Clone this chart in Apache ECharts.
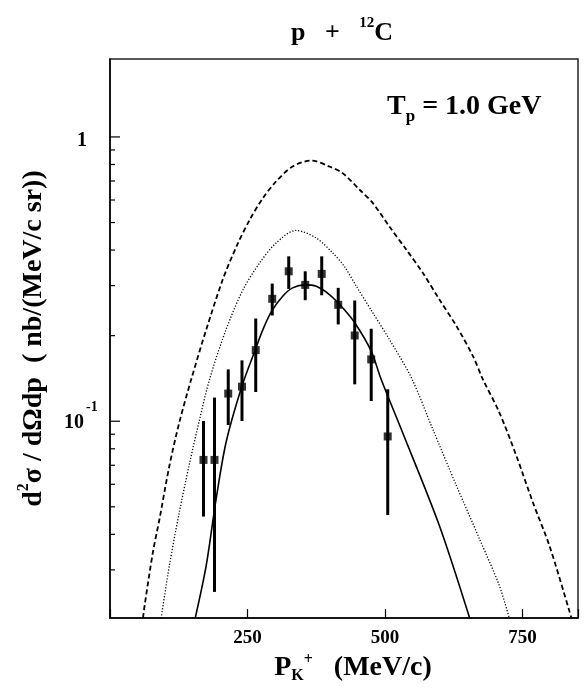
<!DOCTYPE html>
<html>
<head>
<meta charset="utf-8">
<script src="https://cdn.jsdelivr.net/npm/echarts@6/dist/echarts.min.js"></script>
<style>
  html, body { margin: 0; padding: 0; background: #fff; }
  #chart { width: 584px; height: 689px; }
</style>
</head>
<body>
<div id="chart"></div>
<script>
// data points (MeV/c, nb/(MeV/c sr))
const ptX = [170, 190, 215, 240, 265, 295, 325, 355, 385, 415, 445, 475, 505]
const ptY = [0.0731, 0.0731, 0.1251, 0.1323, 0.1779, 0.2695, 0.3368, 0.3017, 0.3298, 0.2567, 0.2003, 0.1650, 0.0884]
const errLo = [0.0462, 0.0251, 0.0970, 0.1002, 0.1267, 0.2355, 0.2921, 0.2665, 0.2774, 0.2190, 0.1348, 0.1178, 0.0468]
const errHi = [0.1002, 0.1211, 0.1522, 0.1637, 0.2298, 0.3049, 0.3802, 0.3368, 0.3802, 0.2945, 0.2659, 0.2115, 0.1295]

// solid curve
const solidX = [155, 175, 192, 211, 240, 264, 278, 294, 314, 332, 355, 375, 399, 423, 445, 475, 493, 532, 599, 654]
const solidY = [0.0203, 0.0311, 0.0518, 0.0842, 0.133, 0.178, 0.210, 0.2438, 0.2752, 0.2945, 0.3017, 0.2983, 0.279, 0.2506, 0.222, 0.1765, 0.1404, 0.0913, 0.0429, 0.0203]

// dotted curve
const dotX = [93, 108, 126, 145, 163, 181, 211, 242, 272, 302, 338, 375, 405, 426, 448, 478, 508, 548, 587, 630, 672, 708, 726]
const dotY = [0.0203, 0.0311, 0.0478, 0.0716, 0.1016, 0.1404, 0.210, 0.2905, 0.3603, 0.4236, 0.469, 0.441, 0.3908, 0.3506, 0.2983, 0.2406, 0.194, 0.1423, 0.0937, 0.0593, 0.0385, 0.0264, 0.0203]

// dashed curve
const dashX = [60, 63, 78, 90, 108, 126, 148, 175, 205, 230, 254, 278, 302, 332, 366, 399, 423, 454, 478, 508, 539, 569, 599, 630, 660, 678, 708, 739, 769, 799, 836, 839]
const dashY = [0.0203, 0.0225, 0.0346, 0.0453, 0.0697, 0.0990, 0.141, 0.210, 0.315, 0.412, 0.511, 0.609, 0.697, 0.787, 0.826, 0.787, 0.746, 0.652, 0.585, 0.484, 0.401, 0.332, 0.268, 0.216, 0.1695, 0.1404, 0.1073, 0.0755, 0.0518, 0.0365, 0.0213, 0.0203]

// axis
const xMin = 0
const xMax = 851
const xInterval = 250
const yMin = 0.0203
const yMax = 1.88
const yMajorTicks = [0.1, 1]
const yMinorTicks = [0.03, 0.04, 0.05, 0.06, 0.07, 0.08, 0.09, 0.2, 0.3, 0.4, 0.5, 0.6, 0.7, 0.8, 0.9]

const FONT = '"Liberation Serif", "DejaVu Serif", serif'

const chart = echarts.init(document.getElementById('chart'))

const zip = (xs, ys) => xs.map((x, i) => [x, ys[i]])

const tickData = yMajorTicks.map(v => [xMin, v, 10]).concat(yMinorTicks.map(v => [xMin, v, 5]))

chart.setOption({
  animation: false,
  backgroundColor: '#fff',
  title: [{
    text: '{a|p   +   }{s|12}{a|C}',
    left: 286,
    top: 11,
    textStyle: {
      rich: {
        a: { fontFamily: FONT, fontWeight: 'bold', fontSize: 26, color: '#000', lineHeight: 30, verticalAlign: 'bottom' },
        s: { fontFamily: FONT, fontWeight: 'bold', fontSize: 15, color: '#000', lineHeight: 15, verticalAlign: 'top' }
      }
    }
  }, {
    text: '{a|T}{s|p}{a| = 1.0 GeV}',
    left: 382,
    top: 88,
    textStyle: {
      rich: {
        a: { fontFamily: FONT, fontWeight: 'bold', fontSize: 28, color: '#000', lineHeight: 32, verticalAlign: 'top' },
        s: { fontFamily: FONT, fontWeight: 'bold', fontSize: 17, color: '#000', lineHeight: 17, verticalAlign: 'bottom' }
      }
    }
  }],
  grid: {
    left: 110,
    top: 59,
    right: 6,
    bottom: 70,
    show: true,
    borderColor: '#222',
    borderWidth: 1.5
  },
  xAxis: {
    type: 'value',
    min: xMin,
    max: xMax,
    interval: xInterval,
    name: '{a|P}{b|K}{c|+}{a|   (MeV/c)}',
    nameLocation: 'middle',
    nameGap: 28,
    nameTextStyle: {
      padding: [0, 0, 0, 18],
      rich: {
        a: { fontFamily: FONT, fontWeight: 'bold', fontSize: 28, color: '#000', lineHeight: 32 },
        b: { fontFamily: FONT, fontWeight: 'bold', fontSize: 16, color: '#000', lineHeight: 14, verticalAlign: 'bottom' },
        c: { fontFamily: FONT, fontWeight: 'bold', fontSize: 16, color: '#000', lineHeight: 18, verticalAlign: 'top' }
      }
    },
    axisLine: { lineStyle: { color: '#000', width: 1.5 } },
    axisTick: { inside: true, length: 9, lineStyle: { color: '#000', width: 1.2 } },
    axisLabel: {
      margin: 10,
      fontFamily: FONT,
      fontWeight: 'bold',
      fontSize: 19,
      color: '#000',
      formatter: v => (v > 0 && v % xInterval === 0 ? String(v) : '')
    },
    splitLine: { show: false }
  },
  yAxis: {
    type: 'log',
    logBase: 10,
    min: yMin,
    max: yMax,
    name: '{a|d}{s|2}{a|σ / dΩdp  ( nb/(MeV/c sr))}',
    nameLocation: 'middle',
    nameRotate: 90,
    nameGap: 62,
    nameTextStyle: {
      rich: {
        a: { fontFamily: FONT, fontWeight: 'bold', fontSize: 28, color: '#000', lineHeight: 32, verticalAlign: 'bottom' },
        s: { fontFamily: FONT, fontWeight: 'bold', fontSize: 16, color: '#000', lineHeight: 16, verticalAlign: 'top' }
      }
    },
    axisLine: { show: true, lineStyle: { color: '#000', width: 1.5 } },
    axisTick: { show: false },
    axisLabel: { show: false },
    splitLine: { show: false }
  },
  series: [{
    // y axis ticks
    type: 'custom',
    data: tickData,
    clip: false,
    silent: true,
    renderItem: (params, api) => {
      const p = api.coord([api.value(0), api.value(1)])
      const len = api.value(2)
      return {
        type: 'line',
        shape: { x1: p[0], y1: p[1], x2: p[0] + len, y2: p[1] },
        style: { stroke: '#000', lineWidth: 1.2 }
      }
    }
  }, {
    // y axis labels
    type: 'custom',
    data: yMajorTicks.map(v => [xMin, v]),
    clip: false,
    silent: true,
    renderItem: (params, api) => {
      const v = api.value(1)
      const p = api.coord([api.value(0), v])
      const st = { fontFamily: FONT, fontWeight: 'bold', fill: '#000', textVerticalAlign: 'middle' }
      if (v >= 1) {
        return {
          type: 'text',
          style: Object.assign({}, st, { text: '1', x: p[0] - 23, y: p[1] + 4, fontSize: 20, textAlign: 'right' })
        }
      }
      const exp = Math.round(Math.log10(v))
      return {
        type: 'group',
        children: [{
          type: 'text',
          style: Object.assign({}, st, { text: '10', x: p[0] - 26, y: p[1] + 2, fontSize: 20, textAlign: 'right' })
        }, {
          type: 'text',
          style: Object.assign({}, st, { text: String(exp), x: p[0] - 24, y: p[1] - 14, fontSize: 14, textAlign: 'left' })
        }]
      }
    }
  }, {
    type: 'line',
    data: zip(dashX, dashY),
    showSymbol: false,
    smooth: 0.3,
    lineStyle: { color: '#000', width: 1.8, type: [5, 3] }
  }, {
    type: 'line',
    data: zip(dotX, dotY),
    showSymbol: false,
    smooth: 0.3,
    lineStyle: { color: '#000', width: 1.3, type: [1.2, 1.8] }
  }, {
    type: 'line',
    data: zip(solidX, solidY),
    showSymbol: false,
    smooth: 0.3,
    lineStyle: { color: '#000', width: 1.6 }
  }, {
    // error bars
    type: 'custom',
    data: ptX.map((x, i) => [x, errLo[i], errHi[i]]),
    renderItem: (params, api) => {
      const a = api.coord([api.value(0), api.value(1)])
      const b = api.coord([api.value(0), api.value(2)])
      return {
        type: 'line',
        shape: { x1: a[0], y1: a[1], x2: b[0], y2: b[1] },
        style: { stroke: '#000', lineWidth: 3 }
      }
    }
  }, {
    type: 'scatter',
    data: zip(ptX, ptY),
    symbol: 'rect',
    symbolSize: 8,
    itemStyle: { color: '#000' }
  }]
})
</script>
</body>
</html>
